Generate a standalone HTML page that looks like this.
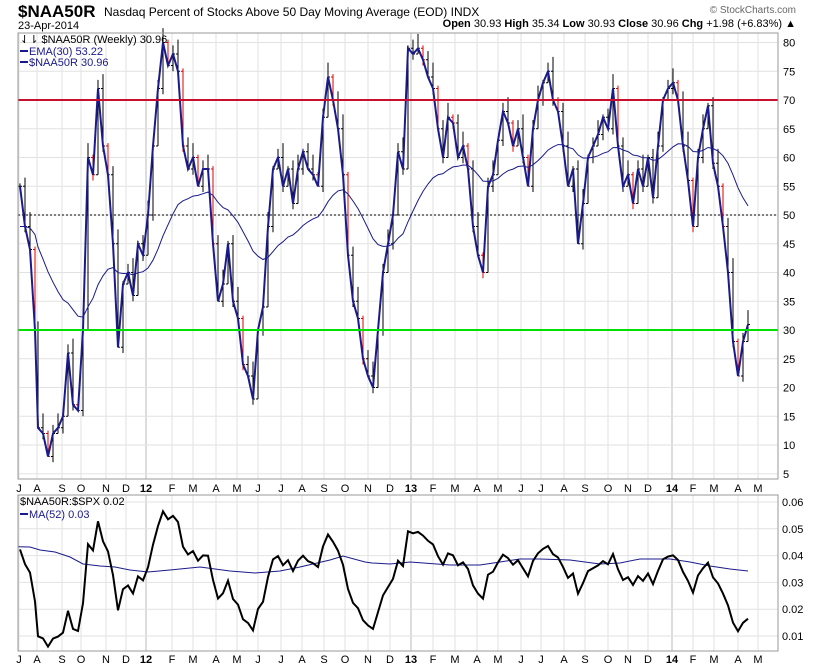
<!DOCTYPE html>
<html><head><meta charset="utf-8"><style>
html,body{margin:0;background:#fff;font-family:"Liberation Sans",sans-serif;overflow:hidden;width:820px;height:668px}
svg{display:block}
svg text{font-family:"Liberation Sans",sans-serif}
</style></head><body>
<svg id="s" width="820" height="668" xmlns="http://www.w3.org/2000/svg"></svg>
<script>
const S=document.getElementById('s');let h='';
const P=[[20,55],[25,48],[30,44],[35,30],[38,13],[43,12],[48,8],[53,12],[58,13],[63,15],[68,26],[73,17],[78,16],[83,30],[88,60],[93,57],[98,72],[103,62],[108,57],[113,45],[118,27],[123,38],[128,40],[133,36],[138,45],[143,43],[148,50],[153,62],[158,72],[163,80],[168,76],[173,78],[178,75],[183,62],[188,58],[193,60],[198,55],[203,58],[208,58],[213,45],[218,35],[223,38],[228,45],[233,35],[238,32],[243,24],[248,22],[253,18],[258,30],[263,34],[268,48],[273,58],[278,60],[283,55],[288,58],[293,52],[298,58],[303,61],[308,58],[313,57],[318,55],[323,67],[328,74],[333,70],[338,65],[343,57],[348,43],[353,35],[358,32],[363,25],[368,22],[373,20],[378,30],[383,40],[388,45],[393,50],[398,61],[403,58],[408,79],[413,78],[418,79],[423,77],[428,74],[433,72],[438,65],[443,60],[448,67],[453,66],[458,60],[463,62],[468,58],[473,48],[478,43],[483,40],[488,55],[493,57],[498,63],[503,68],[508,66],[513,62],[518,65],[523,60],[528,55],[533,65],[538,70],[543,73],[548,75],[553,70],[558,68],[563,62],[568,55],[573,58],[578,45],[583,52],[588,60],[593,62],[598,64],[603,67],[608,65],[613,72],[618,62],[623,55],[628,57],[633,52],[638,58],[643,55],[648,60],[653,53],[658,62],[663,70],[668,72],[673,73],[678,70],[683,62],[688,56],[693,48],[698,60],[703,65],[708,69],[713,59],[718,55],[723,48],[728,40],[733,28],[738,22],[743,28],[748,30.96]];
const L=18,R=778;
const y1=v=>330-(v-30)*5.75;
const y2=v=>636-(v-0.01)*2680;
const mx=[[19,'J'],[37,'A'],[62,'S'],[81,'O'],[106,'N'],[126,'D'],[146,'12'],[172,'F'],[193,'M'],[216,'A'],[237,'M'],[258,'J'],[281,'J'],[302,'A'],[324,'S'],[345,'O'],[368,'N'],[390,'D'],[411,'13'],[433,'F'],[455,'M'],[477,'A'],[498,'M'],[521,'J'],[541,'J'],[564,'A'],[585,'S'],[608,'O'],[628,'N'],[648,'D'],[672,'14'],[693,'F'],[714,'M'],[738,'A'],[758,'M']];
function grid(top,bot){mx.forEach(m=>{const b=m[1].length>1;h+=`<line x1="${m[0]}" y1="${top}" x2="${m[0]}" y2="${bot}" stroke="${b?'#bbb':'#e2e2e2'}"/>`;});}
grid(33,479);
for(let v=5;v<=80;v+=5){const y=y1(v);h+=`<line x1="${L}" y1="${y}" x2="${R}" y2="${y}" stroke="#e2e2e2"/><text x="783" y="${y+4}" font-size="11">${v}</text>`;}
h+=`<line x1="${L}" y1="${y1(50)}" x2="${R}" y2="${y1(50)}" stroke="#000" stroke-dasharray="2,2"/>`;
let prev=P[0][1];
P.forEach((p,i)=>{const c=p[1],o=prev;const up=c>=o||(i%3!=0);const hi=Math.max(c,o)+0.5+(i%3),lo=Math.min(c,o)-(i%2);
const col=up?'#000':'#d00';h+=`<line x1="${p[0]}" y1="${y1(hi)}" x2="${p[0]}" y2="${y1(lo)}" stroke="${col}"/><line x1="${p[0]-2}" y1="${y1(o)}" x2="${p[0]}" y2="${y1(o)}" stroke="${col}"/><line x1="${p[0]}" y1="${y1(c)}" x2="${p[0]+2}" y2="${y1(c)}" stroke="${col}"/>`;prev=c;});
let e=48,ep=[];const k=2/31;P.forEach((p,i)=>{e=i==0?48:e+k*(p[1]-e);ep.push(p[0]+','+y1(e).toFixed(1));});
h+=`<polyline points="${ep.join(' ')}" fill="none" stroke="#1a1a8c" stroke-width="1"/>`;
h+=`<polyline points="${P.map(p=>p[0]+','+y1(p[1]).toFixed(1)).join(' ')}" fill="none" stroke="#1a1a8c" stroke-width="2"/>`;
h+=`<line x1="${L}" y1="${y1(70)}" x2="${R}" y2="${y1(70)}" stroke="#c8102e" stroke-width="2"/>`;
h+=`<line x1="${L}" y1="${y1(30)}" x2="${R}" y2="${y1(30)}" stroke="#00e000" stroke-width="2"/>`;
h+=`<rect x="${L}" y="33" width="${R-L}" height="446" fill="none" stroke="#999"/>`;
mx.forEach(m=>{const b=m[1].length>1;h+=`<text x="${m[0]}" y="492" font-size="11" text-anchor="middle" ${b?'font-weight="bold"':''}>${m[1]}</text><text x="${m[0]}" y="663" font-size="11" text-anchor="middle" ${b?'font-weight="bold"':''}>${m[1]}</text>`;});
grid(495,651);
[0.01,0.02,0.03,0.04,0.05,0.06].forEach(v=>{const y=y2(v);h+=`<line x1="${L}" y1="${y}" x2="${R}" y2="${y}" stroke="#e2e2e2"/><text x="782" y="${y+4}" font-size="11">${v.toFixed(2)}</text>`;});
const n=P.length;const rr=P.map((p,i)=>p[1]/(1300+580*i/(n-1)));
const MA=[[18,546.7],[30,547],[40,550],[55,552],[70,557],[83,564],[100,566],[115,567],[130,570],[148,572],[170,570],[200,567],[230,571],[255,573],[280,571],[300,567],[330,560],[343,556],[365,562],[372,563],[390,564],[410,562],[450,565],[480,565],[500,562],[520,559],[540,559],[570,560],[600,564],[620,563],[640,559],[670,559],[690,562],[710,566],[730,569],[748,571]];
h+=`<polyline points="${MA.map(p=>p.join(',')).join(' ')}" fill="none" stroke="#1a1a8c" stroke-width="1"/>`;
h+=`<polyline points="${P.map((p,i)=>p[0]+','+y2(rr[i]).toFixed(1)).join(' ')}" fill="none" stroke="#000" stroke-width="2"/>`;
h+=`<rect x="${L}" y="495" width="${R-L}" height="156" fill="none" stroke="#999"/>`;
h+=`<text x="18" y="17" font-size="17" font-weight="bold">$NAA50R</text><text x="104" y="16" font-size="12">Nasdaq Percent of Stocks Above 50 Day Moving Average (EOD) INDX</text>`;
h+=`<text x="18" y="29" font-size="11">23-Apr-2014</text>`;
h+=`<text x="796" y="13" font-size="10" text-anchor="end" fill="#666">© StockCharts.com</text>`;
h+=`<text x="796" y="27" font-size="11" text-anchor="end"><tspan font-weight="bold">Open</tspan> 30.93  <tspan font-weight="bold">High</tspan> 35.34  <tspan font-weight="bold">Low</tspan> 30.93  <tspan font-weight="bold">Close</tspan> 30.96  <tspan font-weight="bold">Chg</tspan> +1.98 (+6.83%) ▲</text>`;
h+=`<text x="20" y="43" font-size="11">⇃⇂ $NAA50R (Weekly) 30.96</text>`;
h+=`<line x1="20" y1="51" x2="28" y2="51" stroke="#1a1a8c" stroke-width="2"/><text x="29" y="55" font-size="11" fill="#1a1a8c">EMA(30) 53.22</text>`;
h+=`<line x1="20" y1="62" x2="28" y2="62" stroke="#1a1a8c" stroke-width="2"/><text x="29" y="66" font-size="11" fill="#1a1a8c">$NAA50R 30.96</text>`;
h+=`<text x="20" y="505" font-size="11">$NAA50R:$SPX 0.02</text>`;
h+=`<line x1="20" y1="514" x2="28" y2="514" stroke="#1a1a8c" stroke-width="2"/><text x="29" y="518" font-size="11" fill="#1a1a8c">MA(52) 0.03</text>`;
S.innerHTML=h;
</script>
</body></html>
